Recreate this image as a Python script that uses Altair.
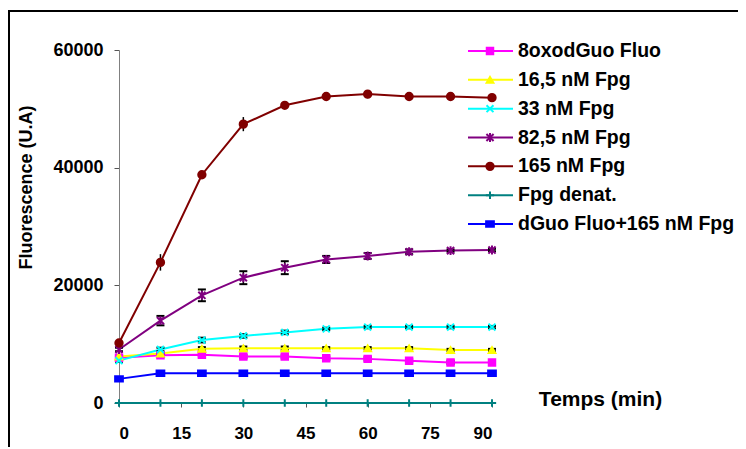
import altair as alt
import pandas as pd

times = [0, 10, 20, 30, 40, 50, 60, 70, 80, 90]

series_names = ["8oxodGuo Fluo", "16,5 nM Fpg", "33 nM Fpg", "82,5 nM Fpg",
                "165 nM Fpg", "Fpg denat.", "dGuo Fluo+165 nM Fpg"]
series_colors = ["#FF00FF", "#FFFF00", "#00FFFF", "#800080", "#800000", "#008080", "#0000FF"]
series_shapes = ["square", "triangle-up", "M-1,-1L1,1M-1,1L1,-1",
                 "M-1,-1L1,1M-1,1L1,-1M0,-1.25L0,1.25", "circle",
                 "M-1.1,0L1.1,0M0,-1L0,1", "M-1,-0.7L1,-0.7L1,0.7L-1,0.7Z"]
series_sizes = [42, 60, 64, 80, 45, 70, 9]

oxo_vals = [7700, 8100, 8200, 7900, 7900, 7600, 7500, 7200, 6900, 6900]
fpg16_vals = [7900, 8400, 9200, 9300, 9300, 9300, 9300, 9300, 9000, 9000]
fpg33_vals = [7200, 9100, 10700, 11400, 12000, 12600, 12900, 12900, 12900, 12900]
fpg82_vals = [9100, 14000, 18300, 21300, 23000, 24400, 25000, 25700, 25900, 26000]
fpg165_vals = [10200, 23900, 38800, 47400, 50600, 52100, 52500, 52100, 52100, 51900]
denat_vals = [0, 0, 0, 0, 0, 0, 0, 0, 0, 0]
dguo_vals = [4100, 5050, 5050, 5050, 5050, 5050, 5050, 5050, 5050, 5050]

oxo_err = [200, 300, 300, 300, 300, 300, 300, 300, 300, 300]
fpg16_err = [200, 200, 300, 300, 300, 200, 200, 200, 200, 200]
fpg33_err = [200, 300, 400, 300, 300, 200, 200, 200, 200, 200]
fpg82_err = [300, 800, 1000, 1100, 1100, 600, 500, 400, 200, 200]
fpg165_err = [400, 1400, 500, 1200, 400, 600, 700, 500, 300, 300]
denat_err = [0, 0, 0, 0, 0, 0, 0, 0, 0, 0]
dguo_err = [0, 0, 0, 0, 0, 0, 0, 0, 0, 0]

all_vals = [oxo_vals, fpg16_vals, fpg33_vals, fpg82_vals, fpg165_vals, denat_vals, dguo_vals]
all_errs = [oxo_err, fpg16_err, fpg33_err, fpg82_err, fpg165_err, denat_err, dguo_err]
capped = [True, True, True, True, False, False, False]

rows = []
for k, name in enumerate(series_names):
    for t, v, e in zip(times, all_vals[k], all_errs[k]):
        rows.append({"series": name, "order": k, "t": t, "v": v, "err": e,
                     "lo": v - e, "hi": v + e, "cap": capped[k]})
df = pd.DataFrame(rows)
err_df = df[df["err"] > 0]
cap_df = err_df[err_df["cap"]]
leg_df = pd.DataFrame({"series": series_names, "order": list(range(len(series_names)))})

FONT = "Liberation Sans"
color_scale = alt.Scale(domain=series_names, range=series_colors)
shape_scale = alt.Scale(domain=series_names, range=series_shapes)
size_scale = alt.Scale(domain=series_names, range=series_sizes)

x_axis = alt.Axis(values=[0, 15, 30, 45, 60, 75, 90], title="Temps (min)", grid=False,
                  labelFont=FONT, labelFontSize=17, labelFontWeight="bold",
                  labelColor="black", labelPadding=18, tickSize=4, tickColor="#555555",
                  domainColor="#808080", titleFont=FONT, titleFontSize=21, titleFontWeight="bold",
                  titleX=481, titleY=-4, titleAlign="center", titleBaseline="middle")
y_axis = alt.Axis(values=[0, 20000, 40000, 60000], format="d", title="Fluorescence (U.A)",
                  grid=False, labelFont=FONT, labelFontSize=18, labelFontWeight="bold",
                  labelColor="black", labelPadding=11, tickSize=5, tickColor="#555555",
                  domainColor="#808080", titleFont=FONT, titleFontSize=18, titleFontWeight="bold",
                  titleX=-93, titleY=137, titleAlign="center", titleBaseline="middle", titleAngle=270)
x_scale = alt.Scale(domain=[0, 90], nice=False)
y_scale = alt.Scale(domain=[0, 60000], nice=False)

lines = alt.Chart(df).mark_line(strokeWidth=2).encode(
    x=alt.X("t:Q", scale=x_scale, axis=x_axis),
    y=alt.Y("v:Q", scale=y_scale, axis=y_axis),
    color=alt.Color("series:N", scale=color_scale, legend=None),
    detail="series:N",
    order="t:Q",
)

err_rules = alt.Chart(err_df).mark_rule(color="black", strokeWidth=1.5).encode(
    x=alt.X("t:Q", scale=x_scale, axis=x_axis),
    y=alt.Y("lo:Q", scale=y_scale, axis=y_axis),
    y2="hi:Q",
)
cap_lo = alt.Chart(cap_df).mark_point(shape="M-1,0L1,0", size=64, color="black",
                                      strokeWidth=2, filled=False, opacity=1).encode(
    x=alt.X("t:Q", scale=x_scale, axis=x_axis),
    y=alt.Y("lo:Q", scale=y_scale, axis=y_axis),
)
cap_hi = alt.Chart(cap_df).mark_point(shape="M-1,0L1,0", size=64, color="black",
                                      strokeWidth=2, filled=False, opacity=1).encode(
    x=alt.X("t:Q", scale=x_scale, axis=x_axis),
    y=alt.Y("hi:Q", scale=y_scale, axis=y_axis),
)

points = alt.Chart(df).mark_point(strokeWidth=2, opacity=1, filled=False).encode(
    x=alt.X("t:Q", scale=x_scale, axis=x_axis),
    y=alt.Y("v:Q", scale=y_scale, axis=y_axis),
    stroke=alt.Stroke("series:N", scale=color_scale, legend=None),
    fill=alt.Fill("series:N", scale=color_scale, legend=None),
    shape=alt.Shape("series:N", scale=shape_scale, legend=None),
    size=alt.Size("series:O", scale=size_scale, legend=None),
)

main = alt.layer(lines, err_rules, cap_lo, cap_hi, points)

leg_y = alt.Y("series:N", scale=alt.Scale(type="point", domain=series_names, range=[1, 174], padding=0),
              axis=None)
leg_line = alt.Chart(leg_df).mark_rule(strokeWidth=2).encode(
    x=alt.value(349), x2=alt.value(394), y=leg_y,
    color=alt.Color("series:N", scale=color_scale, legend=None),
)
leg_pts = alt.Chart(leg_df).mark_point(strokeWidth=2, opacity=1, filled=False).encode(
    x=alt.value(371), y=leg_y,
    stroke=alt.Stroke("series:N", scale=color_scale, legend=None),
    fill=alt.Fill("series:N", scale=color_scale, legend=None),
    shape=alt.Shape("series:N", scale=shape_scale, legend=None),
    size=alt.Size("series:O", scale=size_scale, legend=None),
)
leg_txt = alt.Chart(leg_df).mark_text(align="left", baseline="middle", font=FONT, fontSize=19.5,
                                      fontWeight="bold", color="black").encode(
    x=alt.value(399), y=leg_y, text="series:N",
)
legend = alt.layer(leg_line, leg_pts, leg_txt)

frame_df = pd.DataFrame({"k": [0]})
frame_left = alt.Chart(frame_df).mark_rule(color="black", strokeWidth=2).encode(
    x=alt.value(-110), y=alt.value(-39), y2=alt.value(420))
frame_top = alt.Chart(frame_df).mark_rule(color="black", strokeWidth=2).encode(
    x=alt.value(-111), x2=alt.value(640), y=alt.value(-39), y2=alt.value(-39))

chart = alt.layer(main, legend, frame_left, frame_top).resolve_scale(y="independent").properties(
    width=373, height=353,
    autosize=alt.AutoSizeParams(type="none"),
    padding={"left": 111, "top": 42, "right": 246, "bottom": 44},
    background="white",
).configure_view(stroke=None)

chart.save("out.html", embed_options={"renderer": "svg", "actions": False})
